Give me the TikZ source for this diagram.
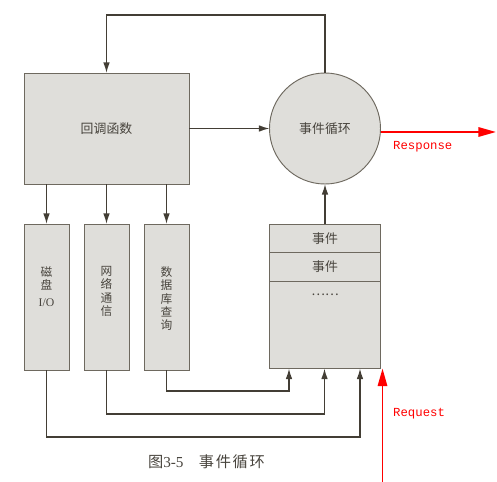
\documentclass[tikz,border=0pt]{standalone}
\usepackage{fontspec}
\setmainfont{Liberation Serif}
\setmonofont{Liberation Mono}
\newfontfamily\cjk{Noto Sans CJK SC}
\usetikzlibrary{arrows.meta}
\definecolor{boxfill}{HTML}{DFDEDA}
\definecolor{boxedge}{HTML}{6E695F}
\definecolor{wire}{HTML}{433E35}
\definecolor{ink}{HTML}{48443D}
\definecolor{hot}{HTML}{FF0000}

\begin{document}
\begin{tikzpicture}[x=0.03cm, y=-0.03cm,
	box/.style={draw=boxedge, fill=boxfill, line width=0.8pt, inner sep=0pt, outer sep=0pt},
	lbl/.style={text=ink, font=\cjk\fontsize{11}{13}\selectfont},
	vlbl/.style={text=ink, anchor=north, align=center, inner sep=0pt, font=\cjk\fontsize{10}{11.5}\selectfont},
	flow/.style={draw=wire, line width=1.1pt, -{Latex[length=9pt,width=5.6pt]}},
	hotflow/.style={draw=hot, line width=1.7pt, -{Triangle[length=15pt,width=8pt]}},
	hotlbl/.style={text=hot, anchor=west, inner sep=0pt, font=\ttfamily\fontsize{10.5}{12}\selectfont}]
			%%%%% START %%%%%
			\useasboundingbox (0,0) rectangle (497,482);
			
			% callback and event loop
			\node[box, lbl, minimum width=4.95cm, minimum height=3.33cm] (callback) at (106.5,128.5) {回调函数};
			\node[box, lbl, circle, minimum size=3.33cm] (loop) at (325,128.5) {事件循环};
			
			% workers
			\node[box, minimum width=1.35cm, minimum height=4.38cm] (disk) at (46.5,297) {};
			\node[box, minimum width=1.35cm, minimum height=4.38cm] (net) at (106.5,297) {};
			\node[box, minimum width=1.35cm, minimum height=4.38cm] (db) at (166.5,297) {};
			\node[vlbl] (disklbl) at (46.5,266) {磁\\盘\\[3pt]{\rmfamily I/O}};
			\node[vlbl] (netlbl) at (106.5,266) {网\\络\\通\\信};
			\node[vlbl] (dblbl) at (166.5,266) {数\\据\\库\\查\\询};
			
			% event queue
			\node[box, lbl, minimum width=3.33cm, minimum height=0.825cm] (ev1) at (325,238.25) {事件};
			\node[box, lbl, minimum width=3.33cm, minimum height=0.87cm] (ev2) at (325,266.5) {事件};
			\node[box, minimum width=3.33cm, minimum height=2.625cm] (evrest) at (325,324.75) {};
			\node[lbl] (dots) at (325,295) {……};
			
			\coordinate (top) at (216,15);
			\coordinate (q1) at (289,368.5);
			\coordinate (q2) at (324.5,368.5);
			\coordinate (q3) at (360,368.5);
			
			\draw[flow] (loop.north) |- (top) -| (callback.north);
			\draw[flow] (callback) -- (loop);
			\draw[flow] (ev1.north) -- (loop.south);
			\draw[flow] (callback.south -| disk.north) -- (disk.north);
			\draw[flow] (callback.south -| net.north) -- (net.north);
			\draw[flow] (callback.south -| db.north) -- (db.north);
			
			\draw[flow] (db.south) -- ++(0,21) -| (q1);
			\draw[flow] (net.south) -- ++(0,44) -| (q2);
			\draw[flow] (disk.south) -- ++(0,67) -| (q3);
			
			% request / response
			\coordinate (respend) at (496,132);
			\coordinate (reqstart) at (382.5,482);
			\draw[hotflow] (loop.east |- respend) -- (respend);
			\draw[hotflow] (reqstart) -- (reqstart |- evrest.south);
			\node[hotlbl] (resplbl) at (393,147) {Response};
			\node[hotlbl] (reqlbl) at (393,414) {Request};
			
			\node[text=ink, font=\fontsize{13}{15}\selectfont] (caption) at (206.5,462) {{\cjk 图}3-5\quad{\cjk 事\kern1.5pt 件\kern1.5pt 循\kern1.5pt 环}};
			%%%%% END %%%%%
\end{tikzpicture}
\end{document}
